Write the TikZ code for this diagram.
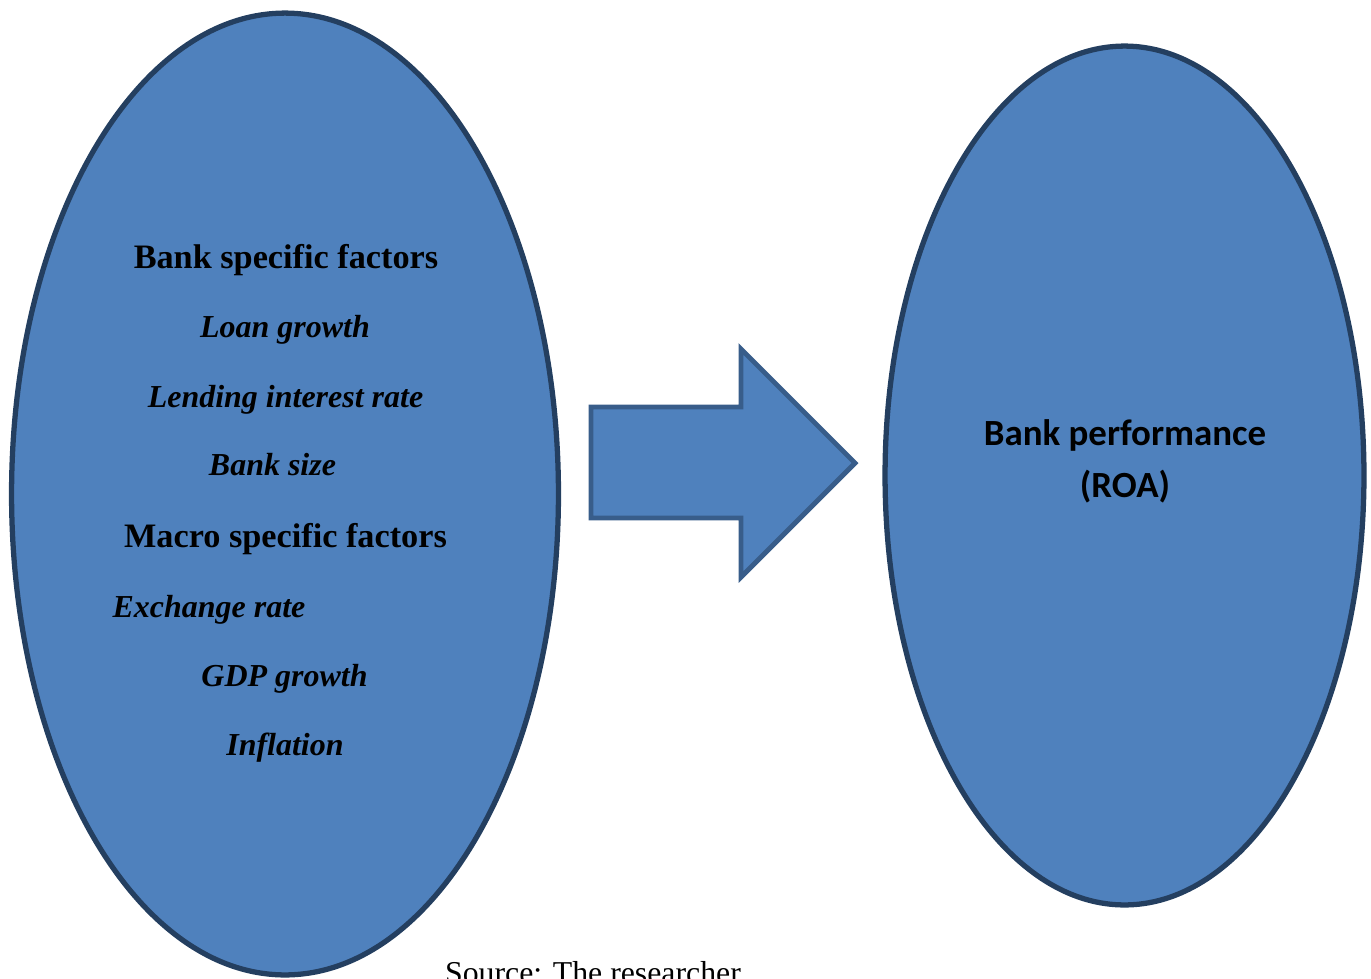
\documentclass[tikz,border=0pt]{standalone}
\usepackage{fontspec}
\setmainfont{Liberation Serif}
\newfontfamily\calibri{Carlito}
\usetikzlibrary{shapes.geometric}

\definecolor{boxfill}{HTML}{4F81BD}
\definecolor{ovalline}{HTML}{243F60}
\definecolor{arrowline}{HTML}{385D8A}

\tikzset{
	oval/.style={ellipse, draw=ovalline, fill=boxfill, line width=3pt, inner sep=0pt},
	factorlabel/.style={anchor=base, font=\fontsize{19.5}{22}\selectfont\bfseries},
	itemlabel/.style={anchor=base, font=\fontsize{18.2}{21}\selectfont\bfseries\itshape},
	outcomelabel/.style={anchor=base, font=\fontsize{21}{25}\selectfont\calibri\bfseries}
}

\begin{document}
\begin{tikzpicture}[x=0.02cm, y=-0.02cm]
			\useasboundingbox (0,0) rectangle (1371,978);
			% ovals
			\node[oval, minimum width=10.94cm, minimum height=19.24cm] (left) at (285,494) {};
			\node[oval, minimum width=9.58cm, minimum height=17.18cm] (right) at (1124.5,475.5) {};
			% block arrow
			\draw[draw=arrowline, fill=boxfill, line width=2.8pt, line join=miter]
				(591,407) -- (741,407) -- (741,349) -- (855,463) -- (741,577) -- (741,518) -- (591,518) -- cycle;
			% left texts
			\node[factorlabel] (bsf) at (286,268) {Bank specific factors};
			\node[itemlabel] (loan) at (285,337) {Loan growth};
			\node[itemlabel] (lend) at (285.5,407) {Lending interest rate};
			\node[itemlabel] (size) at (272.5,475) {Bank size};
			\node[factorlabel] (msf) at (285.5,547) {Macro specific factors};
			\node[itemlabel] (exch) at (209,617) {Exchange rate};
			\node[itemlabel] (gdp) at (284.5,686) {GDP growth};
			\node[itemlabel] (infl) at (285,755) {Inflation};
			% right texts
			\node[outcomelabel] (perf) at (1125,445) {Bank performance};
			\node[outcomelabel] (roa) at (1125,497) {(ROA)};
			% source
			\node[anchor=base, font=\fontsize{18.1}{21}\selectfont] (src) at (593,983) {Source: The researcher};
		\end{tikzpicture}
\end{document}
